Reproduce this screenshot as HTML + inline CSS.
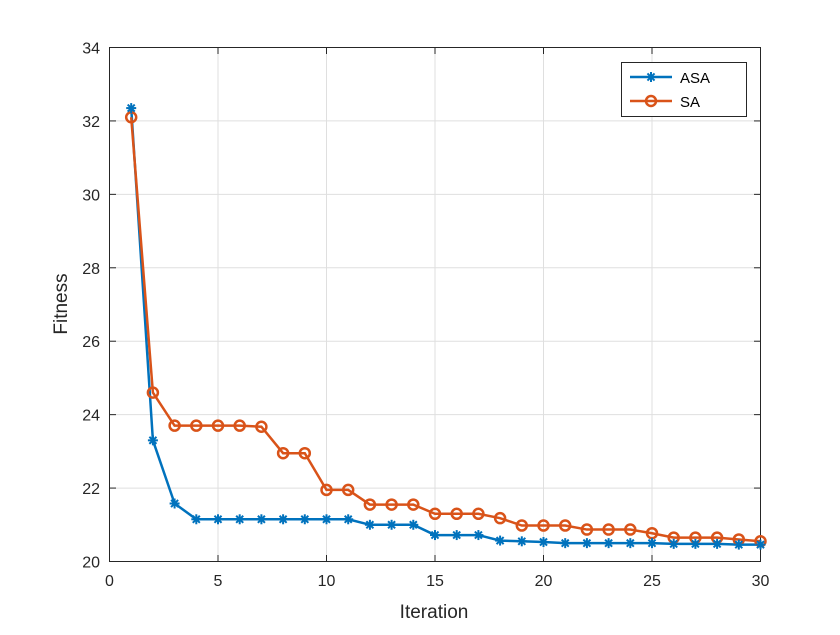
<!DOCTYPE html>
<html><head><meta charset="utf-8"><style>body{margin:0;background:#fff}</style></head><body>
<svg width="840" height="630" xmlns="http://www.w3.org/2000/svg" font-family="Liberation Sans, sans-serif">
<rect width="840" height="630" fill="#fff"/>
<g id="grid" stroke="#dfdfdf" stroke-width="1"></g>
<rect x="109.5" y="47.5" width="651" height="514" fill="none" stroke="#262626" stroke-width="1"/>
<g id="ticks" stroke="#262626"></g>
<g id="labels" font-size="16" fill="#262626"></g>
<text x="434" y="618" font-size="19" text-anchor="middle" fill="#262626">Iteration</text>
<text transform="translate(67,304) rotate(-90)" font-size="19" text-anchor="middle" fill="#262626">Fitness</text>
<g id="series"></g>
<rect x="621.5" y="62.5" width="125" height="54" fill="#fff" stroke="#262626"/>
<line x1="630" y1="77" x2="672" y2="77" stroke="#0072bd" stroke-width="2.5"/>
<g id="leg"></g>
<text x="680" y="83" font-size="15" fill="#000">ASA</text>
<line x1="630" y1="101" x2="672" y2="101" stroke="#d95319" stroke-width="2.5"/>
<circle cx="651" cy="101" r="5" fill="none" stroke="#d95319" stroke-width="2.5"/>
<text x="680" y="107" font-size="15" fill="#000">SA</text>
</svg>
<script>
const ns="http://www.w3.org/2000/svg";
const X=v=>109.5+v*651/30, Y=v=>561.5-(v-20)*514/14;
function el(p,t,a,txt){const e=document.createElementNS(ns,t);for(const k in a)e.setAttribute(k,a[k]);if(txt!==undefined)e.textContent=txt;document.getElementById(p).appendChild(e);return e;}
for(let i=0;i<=30;i+=5){const x=X(i);if(i>0&&i<30)el("grid","line",{x1:x,x2:x,y1:47.5,y2:561.5});
el("ticks","line",{x1:x,x2:x,y1:561.5,y2:555});el("ticks","line",{x1:x,x2:x,y1:47.5,y2:54});
el("labels","text",{x:x,y:586,"text-anchor":"middle"},i);}
for(let v=20;v<=34;v+=2){const y=Y(v);if(v>20&&v<34)el("grid","line",{x1:109.5,x2:760.5,y1:y,y2:y});
el("ticks","line",{x1:109.5,x2:116,y1:y,y2:y});el("ticks","line",{x1:760.5,x2:754,y1:y,y2:y});
el("labels","text",{x:100,y:y+6,"text-anchor":"end"},v);}
const asa=[32.35,23.3,21.58,21.15,21.15,21.15,21.15,21.15,21.15,21.15,21.15,21.0,21.0,21.0,20.72,20.72,20.72,20.57,20.55,20.53,20.5,20.5,20.5,20.5,20.5,20.48,20.48,20.48,20.46,20.46];
const sa=[32.1,24.6,23.7,23.7,23.7,23.7,23.67,22.95,22.95,21.95,21.95,21.55,21.55,21.55,21.3,21.3,21.3,21.18,20.98,20.98,20.98,20.87,20.87,20.87,20.77,20.65,20.65,20.65,20.6,20.55];
function line(d,c){el("series","polyline",{points:d.map((v,i)=>X(i+1)+","+Y(v)).join(" "),fill:"none",stroke:c,"stroke-width":2.5});}
function star(p,x,y){for(let a=0;a<4;a++){const t=a*Math.PI/4,dx=5*Math.cos(t),dy=5*Math.sin(t);el(p,"line",{x1:x-dx,y1:y-dy,x2:x+dx,y2:y+dy,stroke:"#0072bd","stroke-width":2});}}
line(asa,"#0072bd");line(sa,"#d95319");
sa.forEach((v,i)=>el("series","circle",{cx:X(i+1),cy:Y(v),r:5,fill:"none",stroke:"#d95319","stroke-width":2.5}));
asa.forEach((v,i)=>star("series",X(i+1),Y(v)));
star("leg",651,77);
</script>
</body></html>
